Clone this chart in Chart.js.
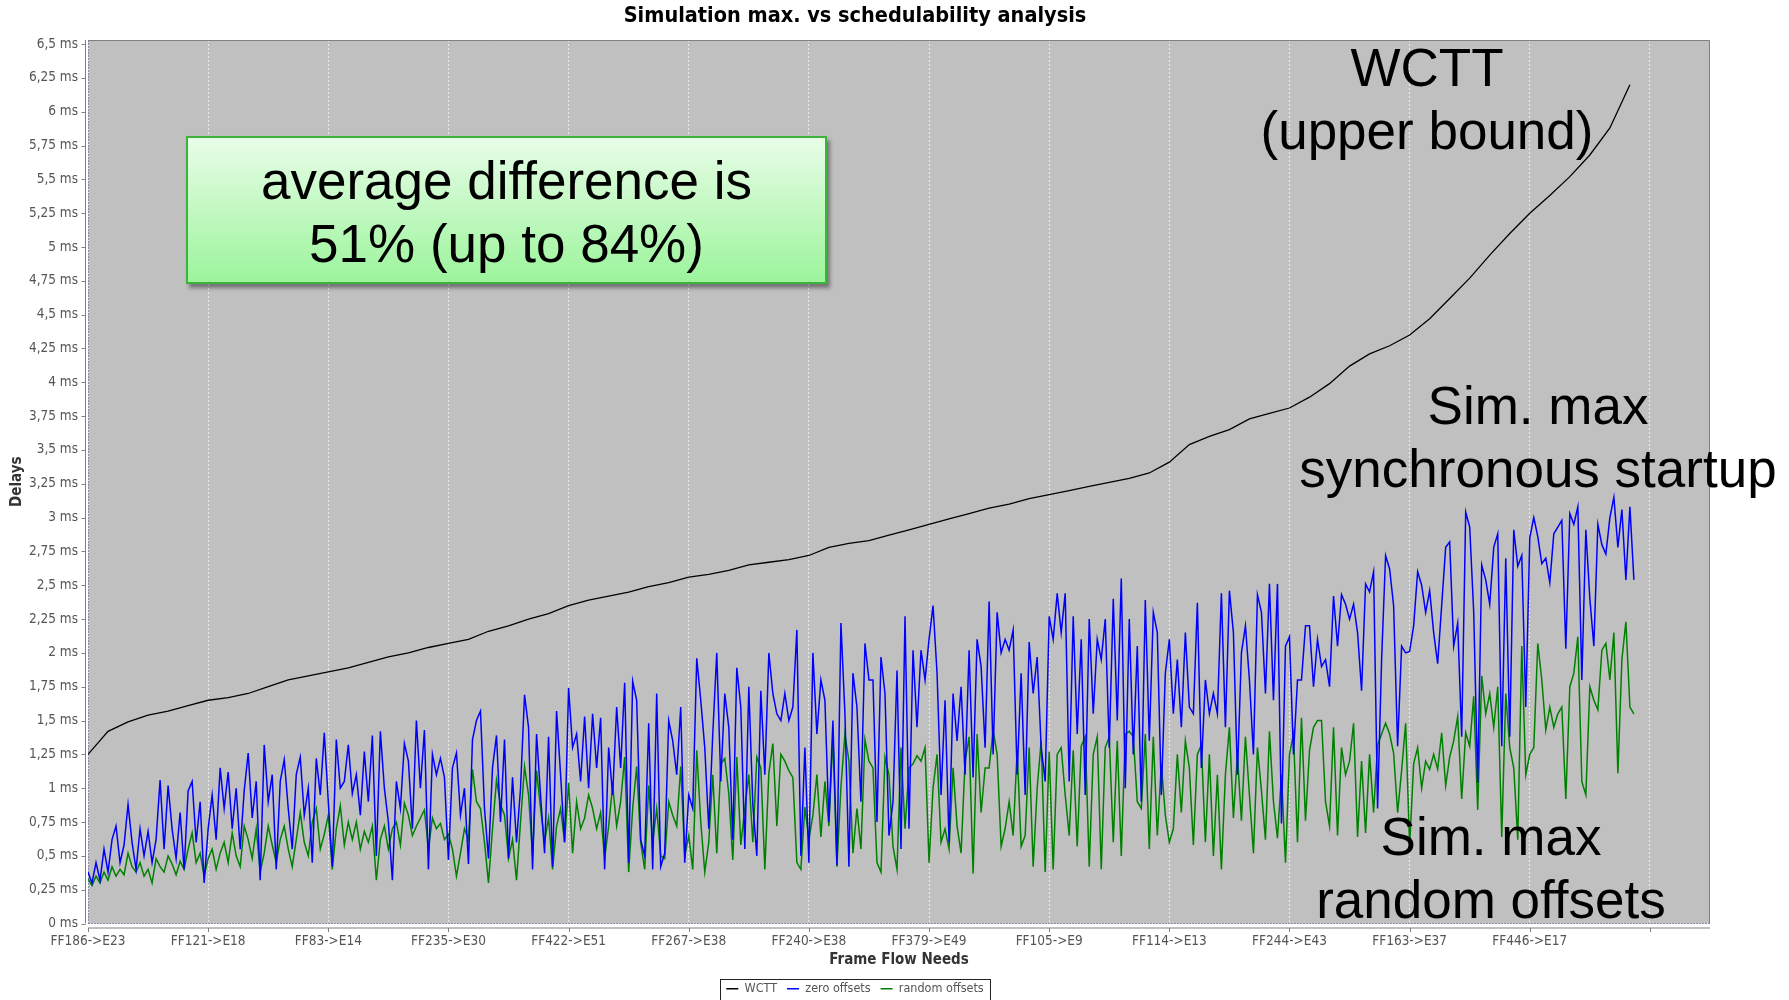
<!DOCTYPE html>
<html>
<head>
<meta charset="utf-8">
<title>Simulation max. vs schedulability analysis</title>
<script src="https://cdn.jsdelivr.net/npm/chart.js@4.4.1/dist/chart.umd.min.js"></script>
<style>
  html, body { margin: 0; padding: 0; background: #fff; overflow: hidden; }
  #wrap { position: relative; width: 1789px; height: 1000px; overflow: hidden; background: #fff; }
  #chartBox { position: absolute; left: 0; top: 0; width: 1716px; height: 1005px; }
  .note {
    position: absolute; transform: translateX(-50%); text-align: center; white-space: nowrap;
    font-family: 'Liberation Sans', Arial, sans-serif; font-size: 53px; line-height: 63px; color: #000;
  }
  .callout {
    position: absolute; left: 186px; top: 136px; width: 641px; height: 148px; box-sizing: border-box;
    border: 2px solid #3cb43c; background: linear-gradient(#e8fde8, #9cf49c);
    box-shadow: 3px 4px 4px rgba(0,0,0,0.4);
    text-align: center; padding-top: 11px;
    font-family: 'Liberation Sans', Arial, sans-serif; font-size: 53px; line-height: 63px; color: #000;
  }
</style>
</head>
<body>
<div id="wrap">
  <div id="chartBox"><canvas id="chart"></canvas></div>
  <div class="note" style="left:1427px; top:36px;">WCTT<br>(upper bound)</div>
  <div class="note" style="left:1538px; top:374px;">Sim. max<br>synchronous startup</div>
  <div class="note" style="left:1491px; top:805px;">Sim. max<br>random offsets</div>
  <div class="callout">average difference is<br>51% (up to 84%)</div>
</div>
<script>
// Labelled flows on the category axis, one every `flowsPerTick` flows
const tickLabels = ['FF186->E23', 'FF121->E18', 'FF83->E14', 'FF235->E30', 'FF422->E51', 'FF267->E38',
  'FF240->E38', 'FF379->E49', 'FF105->E9', 'FF114->E13', 'FF244->E43', 'FF163->E37', 'FF446->E17'];
const flowsPerTick = 30;
const axisFlowCount = 405;

// Delay axis: 0 .. 6.5 ms in quarter-millisecond steps
const delayStep = 0.25;
const delayTop = 6.5;

// Worst-case traversal time (ms), one value every `wcttStride` flows
const wcttStride = 5;
const wctt = [
  1.25,1.42,1.49,1.54,1.57,1.61,1.65,1.67,1.70,1.75,
  1.80,1.83,1.86,1.89,1.93,1.97,2.00,2.04,2.07,2.10,
  2.16,2.20,2.25,2.29,2.35,2.39,2.42,2.45,2.49,2.52,
  2.56,2.58,2.61,2.65,2.67,2.69,2.72,2.78,2.81,2.83,
  2.87,2.91,2.95,2.99,3.03,3.07,3.10,3.14,3.17,3.20,
  3.23,3.26,3.29,3.33,3.41,3.54,3.60,3.65,3.73,3.77,
  3.81,3.89,3.99,4.12,4.21,4.27,4.35,4.47,4.62,4.77,
  4.94,5.10,5.25,5.38,5.52,5.68,5.88,6.20
];

// Simulated maximum delay (ms), all stations starting synchronously
const zeroOffsets = [
  0.38,0.30,0.45,0.32,0.55,0.38,0.62,0.72,0.45,0.58,
  0.88,0.60,0.40,0.70,0.50,0.68,0.45,0.62,1.06,0.55,
  1.02,0.70,0.48,0.82,0.40,0.98,1.05,0.60,0.90,0.30,
  0.70,0.95,0.62,1.15,0.85,1.12,0.70,1.00,0.55,0.98,
  1.26,0.78,1.05,0.32,1.32,0.90,1.10,0.40,1.05,1.21,
  0.85,0.55,1.10,1.23,0.80,1.00,0.45,1.22,0.95,1.41,
  0.90,0.42,1.36,1.00,1.05,1.32,
  0.96,1.10,0.80,1.27,0.90,1.39,0.50,1.42,1.00,0.75,
  0.32,1.05,0.85,1.33,1.20,0.70,1.50,1.00,1.43,0.40,
  1.25,1.10,1.22,1.08,0.47,1.15,1.26,0.80,1.00,0.44,
  1.36,1.50,1.57,0.85,0.48,1.15,1.39,0.75,1.36,0.48,
  1.08,0.60,1.00,1.69,1.45,0.40,1.40,0.95,0.52,1.38,
  0.42,1.57,1.10,0.60,1.74,1.30,1.40,1.05,1.53,1.00,
  1.55,1.15,1.52,0.40,1.30,
  0.95,1.60,1.15,1.78,0.45,1.79,1.65,0.62,0.50,1.48,
  0.40,1.70,0.42,0.52,1.50,1.35,1.10,1.60,0.45,0.95,
  0.85,1.96,1.65,1.30,0.70,1.40,2.00,1.05,1.70,1.45,
  0.62,1.89,1.60,0.55,1.75,0.88,0.50,1.72,1.10,2.00,
  1.70,1.55,1.50,1.70,1.50,1.60,2.17,0.50,1.30,0.45,
  2.00,1.40,1.80,1.65,0.75,1.50,0.43,2.22,1.55,0.42,
  1.85,1.60,0.90,2.07,1.80,
  1.80,0.75,1.97,1.70,0.65,0.90,1.87,0.55,2.27,0.70,
  2.02,1.45,2.02,1.80,2.10,2.35,1.85,0.95,1.65,0.60,
  1.70,1.35,1.75,1.10,2.02,1.08,2.10,1.90,1.30,2.38,
  1.25,2.30,2.00,2.10,2.02,2.17,1.10,1.85,0.95,2.08,
  1.70,1.97,1.30,1.05,2.27,2.10,2.44,2.15,2.44,1.05,
  2.27,1.40,2.10,0.95,2.25,1.55,2.10,1.95,2.25,1.30,
  2.40,1.50,2.55,1.00,2.25,
  1.25,2.05,0.90,2.39,1.35,2.30,2.15,0.95,1.85,2.10,
  1.55,1.95,1.45,2.15,1.60,1.55,2.37,1.15,1.80,1.55,
  1.70,1.55,2.44,1.45,2.46,2.15,1.10,2.00,2.20,1.80,
  1.25,2.43,2.30,1.70,2.51,1.65,2.51,0.74,2.05,2.12,
  1.25,1.80,1.80,2.20,2.20,1.75,2.10,1.90,1.95,1.75,
  2.42,2.05,2.43,2.36,2.25,2.36,2.15,1.72,2.51,2.45,
  2.60,0.85,1.95,2.72,2.62,
  2.35,1.31,2.05,2.00,2.01,2.20,2.60,2.50,2.30,2.46,
  2.15,1.92,2.35,2.78,2.82,2.05,2.22,1.38,3.04,2.93,
  2.30,1.04,2.65,2.54,2.36,2.78,2.88,1.31,2.70,1.38,
  2.91,2.64,2.72,1.60,2.85,3.00,2.86,2.66,2.70,2.52,
  2.88,2.93,2.98,2.03,3.03,2.95,3.08,1.80,2.91,2.40,
  2.05,2.95,2.80,2.73,3.00,3.15,2.78,3.06,2.54,3.08,
  2.54
];

// Simulated maximum delay (ms), stations starting with random offsets
const randomOffsets = [
  0.33,0.28,0.35,0.30,0.38,0.32,0.42,0.35,0.40,0.36,
  0.52,0.42,0.38,0.45,0.35,0.40,0.30,0.48,0.42,0.38,
  0.50,0.44,0.36,0.46,0.40,0.55,0.67,0.45,0.52,0.35,
  0.48,0.55,0.40,0.52,0.60,0.45,0.67,0.50,0.42,0.72,
  0.62,0.48,0.70,0.38,0.52,0.72,0.58,0.45,0.62,0.72,
  0.55,0.42,0.62,0.82,0.60,0.50,0.75,0.85,0.55,0.66,
  0.80,0.40,0.70,0.87,0.58,0.75,
  0.62,0.75,0.55,0.68,0.60,0.72,0.32,0.62,0.72,0.55,
  0.70,0.75,0.58,0.89,0.80,0.65,0.72,0.78,0.84,0.55,
  0.78,0.70,0.74,0.62,0.66,0.55,0.35,0.52,0.70,0.62,
  1.14,0.90,0.85,0.60,0.30,0.70,1.06,0.88,0.80,0.48,
  0.62,0.32,0.75,1.16,0.95,0.50,1.13,0.85,0.60,0.78,
  0.40,0.72,0.85,0.60,1.04,0.52,0.90,0.70,0.78,0.95,
  0.85,0.70,0.82,0.48,0.72,
  1.02,0.72,0.90,1.23,0.38,0.85,1.16,0.60,0.40,1.02,
  0.60,0.85,0.50,0.48,0.90,0.80,0.72,1.16,0.50,0.65,
  0.40,1.28,0.75,0.38,0.60,1.10,0.52,1.18,1.22,0.96,
  0.47,1.23,0.58,0.85,1.10,0.60,1.23,1.15,0.40,1.11,
  1.33,0.72,1.25,1.20,1.13,1.08,0.45,0.40,0.86,0.62,
  0.80,1.10,0.64,1.05,0.72,1.38,0.42,1.01,1.40,1.20,
  0.52,0.85,0.55,1.36,1.20,
  1.15,0.45,0.38,1.23,1.10,0.57,0.40,1.30,0.70,1.15,
  1.18,1.24,1.20,1.30,0.45,1.00,1.25,0.60,0.70,0.55,
  1.15,0.72,0.52,1.20,1.38,0.37,1.40,0.82,1.15,1.15,
  1.43,1.25,0.57,0.70,0.90,0.65,1.28,0.57,0.65,1.30,
  0.42,1.00,1.35,0.38,1.27,0.40,1.25,1.30,0.95,0.65,
  1.28,0.57,1.31,1.38,0.42,1.25,1.38,0.40,1.30,1.38,
  0.60,1.35,0.50,1.40,1.42,
  1.38,0.90,0.85,1.40,0.55,1.38,0.65,1.18,0.80,0.60,
  0.70,1.25,0.82,1.35,1.15,0.58,1.25,1.32,0.60,1.25,
  0.50,1.10,0.40,1.10,1.45,0.78,1.25,0.76,1.38,0.95,
  0.52,1.30,0.98,0.62,1.42,0.90,0.63,1.10,0.45,1.25,
  1.40,0.60,1.52,0.76,1.28,1.45,1.50,1.50,0.90,0.72,
  1.45,0.65,1.30,1.10,1.20,1.48,0.64,1.20,0.67,1.25,
  0.82,1.32,1.40,1.48,1.40,
  1.26,0.82,1.13,1.48,0.57,1.18,1.30,1.00,1.20,1.14,
  1.25,1.14,1.41,1.02,1.23,1.35,1.53,0.92,1.41,1.31,
  1.68,0.84,1.83,1.55,1.70,1.45,1.75,0.64,1.70,1.30,
  1.15,0.62,2.05,1.10,1.25,1.30,2.07,1.80,1.43,1.60,
  1.45,1.55,1.60,0.92,1.75,1.85,2.12,1.05,0.95,1.75,
  1.65,1.58,2.02,2.07,1.80,2.15,1.11,1.95,2.23,1.60,
  1.55
];

const FONT = "'DejaVu Sans Condensed', 'DejaVu Sans', sans-serif";
Chart.defaults.font.family = FONT;

// Grey plot background, dotted origin lines, outline and offset axis lines
const plotFrame = {
  id: 'plotFrame',
  beforeDraw(chart) {
    const {ctx, chartArea: a} = chart;
    ctx.save();
    ctx.fillStyle = '#c0c0c0';
    ctx.fillRect(a.left, a.top, a.right - a.left, a.bottom - a.top);
    ctx.restore();
  },
  beforeDatasetsDraw(chart) {
    const {ctx, chartArea: a, scales: {x, y}} = chart;
    ctx.save();
    ctx.strokeStyle = '#8c8cae';
    ctx.lineWidth = 1;
    ctx.setLineDash([2, 1]);
    const y0 = Math.round(y.getPixelForValue(0)) - 0.5;
    const x0 = Math.round(x.getPixelForValue(0)) + 0.5;
    ctx.beginPath();
    ctx.moveTo(a.left, y0); ctx.lineTo(a.right, y0);
    ctx.moveTo(x0, a.top); ctx.lineTo(x0, a.bottom);
    ctx.stroke();
    ctx.restore();
  },
  afterDraw(chart) {
    const {ctx, chartArea: a, scales: {x, y}} = chart;
    ctx.save();
    ctx.strokeStyle = '#808080';
    ctx.lineWidth = 1;
    // outline top and right
    ctx.beginPath();
    ctx.moveTo(a.left, a.top + 0.5); ctx.lineTo(a.right - 0.5, a.top + 0.5); ctx.lineTo(a.right - 0.5, a.bottom);
    ctx.stroke();
    // domain axis line with tick marks
    const ay = a.bottom + 4.5;
    ctx.beginPath();
    ctx.moveTo(a.left, ay); ctx.lineTo(a.right, ay);
    x.ticks.forEach(t => {
      const px = Math.round(x.getPixelForValue(t.value)) + 0.5;
      ctx.moveTo(px, ay); ctx.lineTo(px, ay + 4);
    });
    // range axis line with tick marks
    const ax = a.left - 2.5;
    ctx.moveTo(ax, a.top); ctx.lineTo(ax, a.bottom);
    y.ticks.forEach(t => {
      const py = Math.round(y.getPixelForValue(t.value)) + 0.5;
      ctx.moveTo(ax, py); ctx.lineTo(ax - 4, py);
    });
    ctx.stroke();
    // frame around the legend items
    const boxes = chart.legend && chart.legend.legendHitBoxes;
    if (boxes && boxes.length) {
      const first = boxes[0], last = boxes[boxes.length - 1];
      const l = Math.round(first.left - 6) + 0.5;
      const r = Math.round(last.left + last.width + 6) + 0.5;
      const t = Math.round(first.top - 4) + 0.5;
      ctx.strokeStyle = '#222';
      ctx.strokeRect(l, t, r - l, 40);
    }
    ctx.restore();
  }
};

const series = (values, step) => values.map((v, i) => ({x: i * step, y: v}));

new Chart(document.getElementById('chart'), {
  type: 'line',
  data: {
    datasets: [
      { label: 'WCTT', data: series(wctt, wcttStride), borderColor: '#000000', backgroundColor: '#000000',
        borderWidth: 1.3, order: 0 },
      { label: 'zero offsets', data: series(zeroOffsets, 1), borderColor: '#0000ff', backgroundColor: '#0000ff',
        borderWidth: 1.5, order: 1 },
      { label: 'random offsets', data: series(randomOffsets, 1), borderColor: '#008000', backgroundColor: '#008000',
        borderWidth: 1.5, order: 2 }
    ]
  },
  options: {
    responsive: true,
    maintainAspectRatio: false,
    devicePixelRatio: 1,
    animation: false,
    events: [],
    layout: { padding: { left: 0, right: 6, top: 0, bottom: 0 } },
    elements: { point: { radius: 0 }, line: { tension: 0 } },
    plugins: {
      title: {
        display: true,
        text: 'Simulation max. vs schedulability analysis',
        color: '#000',
        font: { family: FONT, size: 21.5, weight: 'bold' },
        padding: { top: 4, bottom: 10.2 }
      },
      legend: {
        display: true,
        position: 'bottom',
        labels: {
          color: '#555',
          font: { family: FONT, size: 12.5 },
          usePointStyle: true,
          pointStyle: 'line',
          pointStyleWidth: 12,
          padding: 10
        }
      },
      tooltip: { enabled: false }
    },
    scales: {
      x: {
        type: 'linear',
        min: 0,
        max: axisFlowCount,
        afterBuildTicks(scale) {
          scale.ticks = scale.ticks.filter(t => t.value % flowsPerTick === 0);
        },
        afterFit(scale) { scale.height = 49; },
        ticks: {
          stepSize: flowsPerTick,
          autoSkip: false,
          maxRotation: 0,
          color: '#555',
          padding: 10,
          font: { family: FONT, size: 13.5 },
          callback: (v) => tickLabels[v / flowsPerTick] || ''
        },
        grid: { display: true, drawOnChartArea: true, drawTicks: false, color: '#ececec', lineWidth: 1 },
        border: { display: false, dash: [2, 2] },
        title: {
          display: true, text: 'Frame Flow Needs', color: '#333',
          font: { family: FONT, size: 15, weight: 'bold' },
          padding: { top: 0, bottom: 3 }
        }
      },
      y: {
        type: 'linear',
        min: 0,
        max: 6.53,
        afterBuildTicks(scale) {
          const ticks = [];
          for (let k = 0; k * delayStep <= delayTop + 1e-9; k++) ticks.push({ value: k * delayStep });
          scale.ticks = ticks;
        },
        afterFit(scale) { scale.width = 88; },
        ticks: {
          stepSize: delayStep,
          autoSkip: false,
          color: '#555',
          padding: 10,
          font: { family: FONT, size: 13.5 },
          callback: (v) => String(v).replace('.', ',') + ' ms'
        },
        grid: { display: false, drawTicks: false },
        border: { display: false },
        title: {
          display: true, text: 'Delays', color: '#333',
          font: { family: FONT, size: 15, weight: 'bold' },
          padding: { top: 8, bottom: 0 }
        }
      }
    }
  },
  plugins: [plotFrame]
});
</script>
</body>
</html>
